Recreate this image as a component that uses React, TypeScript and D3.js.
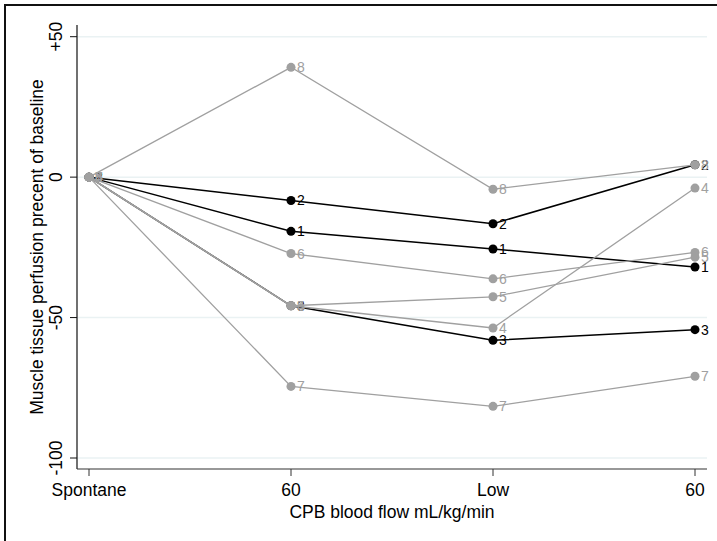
import React, { useEffect, useRef } from 'react';
import * as d3 from 'd3';

// x positions of the measurement stages
const stages = ["Spontane", "60", "Low", "60"];
const yTicks = [-100, -50, 0, 50];
const yTickLabels = ["-100", "-50", "0", "+50"];

// one label per animal, 1-3 drawn black, 4-8 gray
const subjects = ["1", "2", "3", "4", "5", "6", "7", "8"];
const s1 = [0, -19.3, -25.6, -32.0];
const s2 = [0, -8.3, -16.6, 4.4];
const s3 = [0, -45.8, -58.1, -54.3];
const s4 = [0, -45.8, -53.7, -3.9];
const s5 = [0, -45.8, -42.6, -28.5];
const s6 = [0, -27.2, -36.2, -26.8];
const s7 = [0, -74.5, -81.6, -70.9];
const s8 = [0, 39.1, -4.3, 4.4];
const seriesValues = [s1, s2, s3, s4, s5, s6, s7, s8];

function App() {
  const svgRef = useRef(null);
  const width = 717;
  const height = 541;

  useEffect(() => {
    if (!svgRef.current) return;
    const svg = d3.select(svgRef.current);
    svg.selectAll('*').remove();
    const font = '"Liberation Sans", Arial, Helvetica, sans-serif';

    const left = 77, right = 707, top = 25, bottom = 469;
    const x = d3.scaleLinear().domain([0, stages.length - 1]).range([89, 695]);
    const y = d3.scaleLinear().domain([-100, 50]).range([458, 36.7]);

    svg.append('rect').attr('width', width).attr('height', height).attr('fill', '#fff');

    // outer frame (only top and left edges are inside the picture)
    svg.append('path')
      .attr('d', `M5,${height + 5} L5,5 L${width + 5},5`)
      .attr('fill', 'none').attr('stroke', '#111').attr('stroke-width', 2);

    // gridlines
    svg.append('g').selectAll('line').data(yTicks).enter().append('line')
      .attr('x1', left).attr('x2', right)
      .attr('y1', (d) => y(d)).attr('y2', (d) => y(d))
      .attr('stroke', '#eaf2f3').attr('stroke-width', 1.5);

    // y axis
    const gy = svg.append('g').attr('transform', `translate(${left},0)`);
    gy.append('line').attr('x1', 0).attr('x2', 0).attr('y1', top).attr('y2', bottom)
      .attr('stroke', '#111').attr('stroke-width', 1.2);
    gy.selectAll('line.tick').data(yTicks).enter().append('line')
      .attr('class', 'tick')
      .attr('x1', -7).attr('x2', 0)
      .attr('y1', (d) => y(d)).attr('y2', (d) => y(d))
      .attr('stroke', '#111').attr('stroke-width', 1);
    gy.selectAll('text').data(yTicks).enter().append('text')
      .attr('transform', (d) => `translate(-15.5,${y(d)}) rotate(-90)`)
      .attr('text-anchor', 'middle')
      .attr('font-family', font).attr('font-size', 17.5)
      .text((_, i) => yTickLabels[i]);

    svg.append('text')
      .attr('transform', `translate(43,${(top + bottom) / 2}) rotate(-90)`)
      .attr('text-anchor', 'middle')
      .attr('font-family', font).attr('font-size', 17.5)
      .text('Muscle tissue perfusion precent of baseline');

    // x axis
    const gx = svg.append('g').attr('transform', `translate(0,${bottom})`);
    gx.append('line').attr('x1', left).attr('x2', right).attr('y1', 0).attr('y2', 0)
      .attr('stroke', '#333').attr('stroke-width', 1.2);
    gx.selectAll('line.tick').data(stages).enter().append('line')
      .attr('class', 'tick')
      .attr('x1', (_, i) => x(i)).attr('x2', (_, i) => x(i))
      .attr('y1', 0).attr('y2', 7)
      .attr('stroke', '#333').attr('stroke-width', 1);
    gx.selectAll('text').data(stages).enter().append('text')
      .attr('x', (_, i) => x(i)).attr('y', 27)
      .attr('text-anchor', 'middle')
      .attr('font-family', font).attr('font-size', 17.5)
      .text((d) => d);

    svg.append('text')
      .attr('x', (left + right) / 2).attr('y', bottom + 49)
      .attr('text-anchor', 'middle')
      .attr('font-family', font).attr('font-size', 17.5)
      .text('CPB blood flow mL/kg/min');

    // series
    const line = d3.line().x((_, i) => x(i)).y((d) => y(d));
    seriesValues.forEach((vals, k) => {
      const color = k < 3 ? '#000' : '#a0a0a0';
      const g = svg.append('g');
      g.append('path').attr('d', line(vals))
        .attr('fill', 'none').attr('stroke', color)
        .attr('stroke-width', k < 3 ? 1.5 : 1.3);
      g.selectAll('circle').data(vals).enter().append('circle')
        .attr('cx', (_, i) => x(i)).attr('cy', (d) => y(d))
        .attr('r', 4.5).attr('fill', color);
      g.selectAll('text').data(vals).enter().append('text')
        .attr('x', (_, i) => x(i) + 6).attr('y', (d) => y(d) + 5)
        .attr('font-family', font).attr('font-size', 14)
        .attr('fill', color)
        .text(subjects[k]);
    });
  }, []);

  return (
    <svg ref={svgRef} width={width} height={height}
      style={{ position: 'absolute', left: 0, top: 0, display: 'block' }} />
  );
}

export default App;
